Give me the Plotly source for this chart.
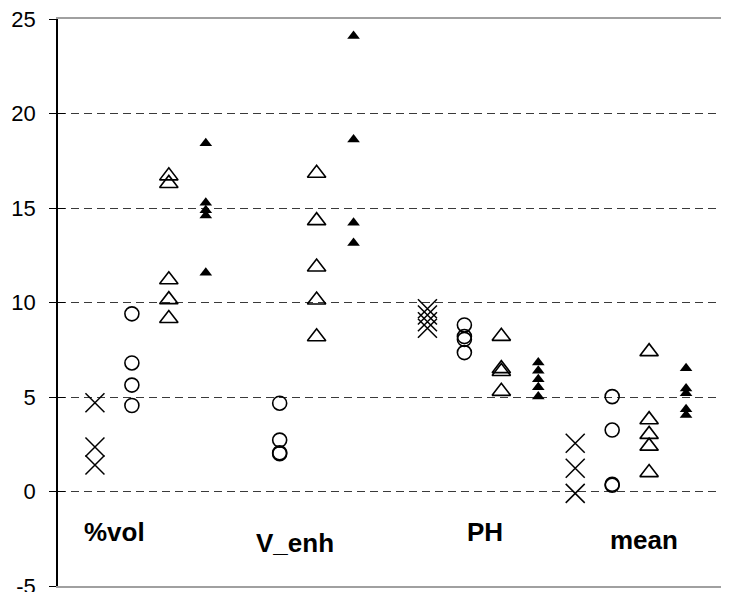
import plotly.graph_objects as go

# Categories (group labels) and the slot each series occupies on the category axis
groups = ["%vol", "V_enh", "PH", "mean"]
slot_cross = [1, 5, 10, 14]
slot_circle = [2, 6, 11, 15]
slot_open_tri = [3, 7, 12, 16]
slot_filled_tri = [4, 8, 13, 17]

# Series values, per group
cross_vals = [
    [4.7, 2.35, 1.4],
    [],
    [9.67, 9.34, 8.98, 8.64],
    [2.55, 1.23, -0.1],
]
circle_vals = [
    [9.4, 6.8, 5.63, 4.55],
    [4.67, 2.72, 2.05, 2.0],
    [8.81, 8.2, 8.05, 7.35],
    [5.02, 3.25, 0.38, 0.33],
]
open_tri_vals = [
    [16.7, 16.3, 11.2, 10.15, 9.15],
    [16.84, 14.33, 11.88, 10.13, 8.19],
    [8.21, 6.5, 6.35, 5.3],
    [7.4, 3.8, 3.02, 2.4, 1.0],
]
filled_tri_vals = [
    [18.42, 15.28, 14.88, 14.6, 11.58],
    [24.1, 18.63, 14.22, 13.15],
    [6.82, 6.39, 5.94, 5.51, 5.02],
    [6.52, 5.45, 5.2, 4.35, 4.05],
]

# Group label placement (category-axis position, value)
label_x = [1.52, 6.42, 11.56, 15.86]
label_y = [-2.13, -2.72, -2.13, -2.57]

y_ticks = [-5, 0, 5, 10, 15, 20, 25]
y_tick_text = ["-5", "0", "5", "10", "15", "20", "25"]


def flatten(slots, vals):
    xs, ys = [], []
    for s, vs in zip(slots, vals):
        for v in vs:
            xs.append(s)
            ys.append(v)
    return xs, ys


fig = go.Figure()

series = [
    (slot_cross, cross_vals, dict(symbol="x-thin", size=19, color="black",
                                  line=dict(color="black", width=1.5))),
    (slot_circle, circle_vals, dict(symbol="circle-open", size=14, color="black",
                                    line=dict(color="black", width=1.6))),
    (slot_open_tri, open_tri_vals, dict(symbol="triangle-up-open", size=16, color="black",
                                        line=dict(color="black", width=1.6))),
    (slot_filled_tri, filled_tri_vals, dict(symbol="triangle-up", size=11, color="black",
                                            line=dict(color="black", width=0))),
]
for slots, vals, marker in series:
    xs, ys = flatten(slots, vals)
    fig.add_trace(go.Scatter(x=xs, y=ys, mode="markers", marker=marker,
                             hoverinfo="skip", cliponaxis=False))

for name, lx, ly in zip(groups, label_x, label_y):
    fig.add_annotation(x=lx, y=ly, text=name, showarrow=False,
                       font=dict(family="Liberation Sans, Arial", size=26, color="black",
                                 weight="bold"),
                       xanchor="center", yanchor="middle")

# The page body has an 8px margin, so the figure is sized/offset to land the
# plot area where the reference has it.
fig.update_layout(
    width=721, height=584,
    margin=dict(l=50, r=6, t=11, b=6, autoexpand=False),
    plot_bgcolor="white", paper_bgcolor="white",
    showlegend=False,
    font=dict(family="Liberation Sans, Arial", color="black"),
    xaxis=dict(range=[0, 18], showticklabels=False, showgrid=False, zeroline=False,
               showline=True, linecolor="#a0a0a0", linewidth=1.5, mirror=True, ticks="",
               automargin=False),
    yaxis=dict(range=[-5, 25], tickvals=y_ticks, ticktext=y_tick_text,
               tickfont=dict(size=22, color="black"),
               ticks="outside", ticklen=7, tickcolor="black", tickwidth=1,
               showline=True, linecolor="black", linewidth=1.5,
               showgrid=True, gridcolor="#3a3a3a", gridwidth=1, griddash="8px,5px",
               zeroline=False, ticklabelstandoff=9, ticklabeloverflow="allow",
               automargin=False),
    yaxis2=dict(range=[-5, 25], overlaying="y", matches="y", side="left",
                tickvals=y_ticks, ticks="inside", ticklen=7, tickcolor="black", tickwidth=1,
                showticklabels=False, showgrid=False, zeroline=False, showline=False,
                automargin=False),
)
fig.add_trace(go.Scatter(x=[None], y=[None], yaxis="y2", showlegend=False, hoverinfo="skip"))
fig.add_shape(type="line", xref="paper", yref="paper", x0=1, x1=1, y0=0, y1=1,
              line=dict(color="#a0a0a0", width=1.5))

fig.write_html("out.html")
